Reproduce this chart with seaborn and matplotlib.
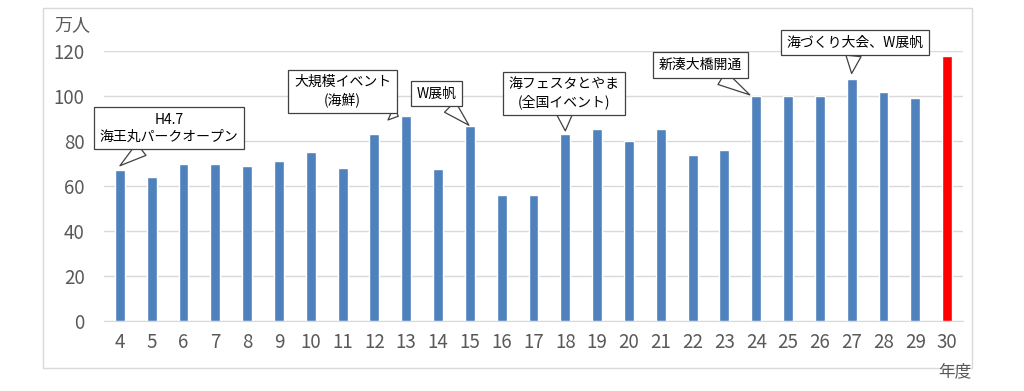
import matplotlib
matplotlib.use("Agg")
import matplotlib.pyplot as plt
import seaborn as sns
import pandas as pd
from matplotlib.patches import Rectangle

# 年度 (H4 - H30) と 来場者数 (万人)
years = [str(y) for y in range(4, 31)]
visitors = [67, 64, 70, 70, 69, 71, 75, 68, 83, 91, 67.5, 86.5, 56, 56,
            83, 85.5, 80, 85.5, 74, 76, 100, 100, 99.8, 107.5, 102, 99, 118]
bar_colors = ['#4F81BD'] * 26 + ['#FF0000']

# 吹き出し: (テキスト, 対象年度)
notes = [
    ("H4.7\n海王丸パークオープン", "4"),
    ("大規模イベント\n(海鮮)", "13"),
    ("W展帆", "15"),
    ("海フェスタとやま\n(全国イベント)", "18"),
    ("新湊大橋開通", "24"),
    ("海づくり大会、W展帆", "27"),
]
# 吹き出し位置 (データ座標) と矢印の先端 x オフセット
note_pos = [(1.55, 85.8, 0.0, 2), (7.0, 102.2, -0.25, 0), (9.95, 101.0, -0.03, 0.5),
            (13.95, 101.3, 0.0, 1.5), (18.25, 113.8, -0.2, 0.5), (23.1, 123.6, 0.0, 2.5)]

sns.set_style("white")
plt.rcParams['font.family'] = ['Noto Sans CJK JP', 'DejaVu Sans']

df = pd.DataFrame({'year': years, 'value': visitors})

fig = plt.figure(figsize=(10.24, 3.91), dpi=100)
ax = fig.add_axes([104 / 1024, 1 - 321 / 391, 859 / 1024, 270 / 391])

sns.barplot(data=df, x='year', y='value', hue='year', palette=bar_colors,
            legend=False, width=0.31, saturation=1, ax=ax, zorder=3)

ax.set_ylim(0, 120)
ax.set_xlim(-0.5, 26.5)
ax.set_yticks(range(0, 121, 20))
ax.yaxis.grid(True, color='#D9D9D9', linewidth=1, zorder=0)
ax.set_axisbelow(True)
for s in ['top', 'right', 'left']:
    ax.spines[s].set_visible(False)
ax.spines['bottom'].set_color('#D9D9D9')
ax.tick_params(axis='both', colors='#595959', labelsize=13.5, length=0)
ax.tick_params(axis='x', pad=8)
ax.tick_params(axis='y', pad=14)
ax.set_xlabel('')
ax.set_ylabel('')

fig.text(72 / 1024, 1 - 25 / 391, '万人', color='#595959', fontsize=13,
         ha='center', va='center')
fig.text(955 / 1024, 1 - 372 / 391, '年度', color='#595959', fontsize=12,
         ha='center', va='center')

# 外枠
fig.patches.append(Rectangle((43 / 1024, 1 - 368 / 391), 929 / 1024, 360 / 391,
                             transform=fig.transFigure, fill=False,
                             edgecolor='#D9D9D9', linewidth=1))

for (txt, yr), (tx, ty, dx, dy) in zip(notes, note_pos):
    i = years.index(yr)
    ax.annotate(txt, xy=(i + dx, visitors[i] + dy), xytext=(tx, ty),
                ha='center', va='center', fontsize=10, color='black',
                linespacing=1.25, annotation_clip=False, zorder=5,
                bbox=dict(boxstyle='square,pad=0.4', fc='white', ec='#404040', lw=0.9),
                arrowprops=dict(arrowstyle='wedge,tail_width=1.1,shrink_factor=0.5',
                                fc='white', ec='#404040', lw=0.9, shrinkA=0, shrinkB=0))

fig.savefig('out.png', dpi=100)
